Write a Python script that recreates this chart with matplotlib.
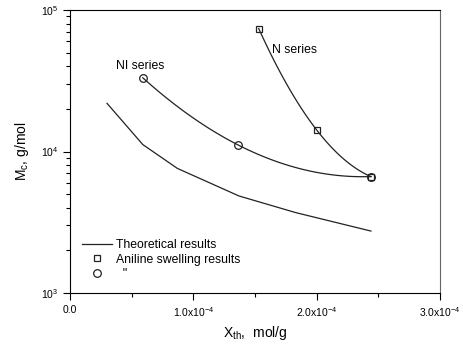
import numpy as np
import matplotlib
matplotlib.use("Agg")
import matplotlib.pyplot as plt
from matplotlib.ticker import FixedLocator, LogLocator, NullFormatter

plt.rcParams['font.family'] = ['Liberation Sans', 'DejaVu Sans']
plt.rcParams['mathtext.fontset'] = 'custom'
plt.rcParams['mathtext.rm'] = 'Liberation Sans'
plt.rcParams['mathtext.it'] = 'Liberation Sans'

# theoretical curve
x_theo = [0.30e-4, 0.59e-4, 0.87e-4, 1.37e-4, 1.83e-4, 2.44e-4]
y_theo = [21900, 11200, 7600, 4850, 3700, 2740]

# aniline swelling, N series (squares)
x_n = [1.53e-4, 2.00e-4, 2.44e-4]
y_n = [74000, 14200, 6650]

# aniline swelling, NI series (circles)
x_ni = [0.59e-4, 1.365e-4, 2.44e-4]
y_ni = [33200, 11100, 6650]

xticks = [0, 1e-4, 2e-4, 3e-4]
xtick_labels = ['0.0', r'1.0x10$^{-4}$', r'2.0x10$^{-4}$', r'3.0x10$^{-4}$']


def smooth(xs, ys):
    # quadratic through the three points in log space
    c = np.polyfit(xs, np.log10(ys), 2)
    xx = np.linspace(xs[0], xs[-1], 100)
    return xx, 10 ** np.polyval(c, xx)


fig = plt.figure(figsize=(4.64, 3.45), dpi=100)
ax = fig.add_axes([70 / 464, 52 / 345, 370 / 464, 283 / 345])

ax.plot(x_theo, y_theo, color='#222222', lw=0.9, label='Theoretical results')

xs, ys = smooth(x_n, y_n)
ax.plot(xs, ys, color='#222222', lw=0.9)
xs, ys = smooth(x_ni, y_ni)
ax.plot(xs, ys, color='#222222', lw=0.9)

ax.plot(x_n, y_n, ls='none', marker='s', ms=5, mfc='none', mec='#222222', mew=0.9,
        label='Aniline swelling results')
ax.plot(x_ni, y_ni, ls='none', marker='o', ms=5.5, mfc='none', mec='#222222', mew=0.9,
        label='  "')

ax.set_yscale('log')
ax.set_xlim(0, 3e-4)
ax.set_ylim(1e3, 1e5)
ax.set_xticks(xticks)
ax.set_xticklabels(xtick_labels)
ax.xaxis.set_minor_locator(FixedLocator([0.5e-4, 1.5e-4, 2.5e-4]))
ax.yaxis.set_major_locator(FixedLocator([1e3, 1e4, 1e5]))
ax.set_yticklabels([r'10$^{3}$', r'10$^{4}$', r'10$^{5}$'])
ax.yaxis.set_minor_locator(LogLocator(base=10, subs=np.arange(2, 10)))
ax.yaxis.set_minor_formatter(NullFormatter())

ax.tick_params(which='both', direction='out', top=False, right=False, labelsize=7.5, width=0.8)
ax.tick_params(which='major', length=5)
ax.tick_params(which='minor', length=3)
for s in ax.spines.values():
    s.set_linewidth(0.8)
ax.spines['right'].set_color('#666666')

ax.set_xlabel(r'X$_{\rm th}$,  mol/g', fontsize=10, labelpad=4)
ax.set_ylabel(r'M$_{\rm c}$, g/mol', fontsize=10, labelpad=7)

ax.text(0.57e-4, 36500, 'NI series', fontsize=8.8, ha='center', va='bottom')
ax.text(1.64e-4, 52000, 'N series', fontsize=8.8, ha='left', va='center')

ax.legend(loc='lower left', bbox_to_anchor=(0.01, 0.015), frameon=False, fontsize=8.8,
          handlelength=2.4, handletextpad=0.4, labelspacing=0.2, borderpad=0.2)

fig.savefig('out.png', dpi=100)
